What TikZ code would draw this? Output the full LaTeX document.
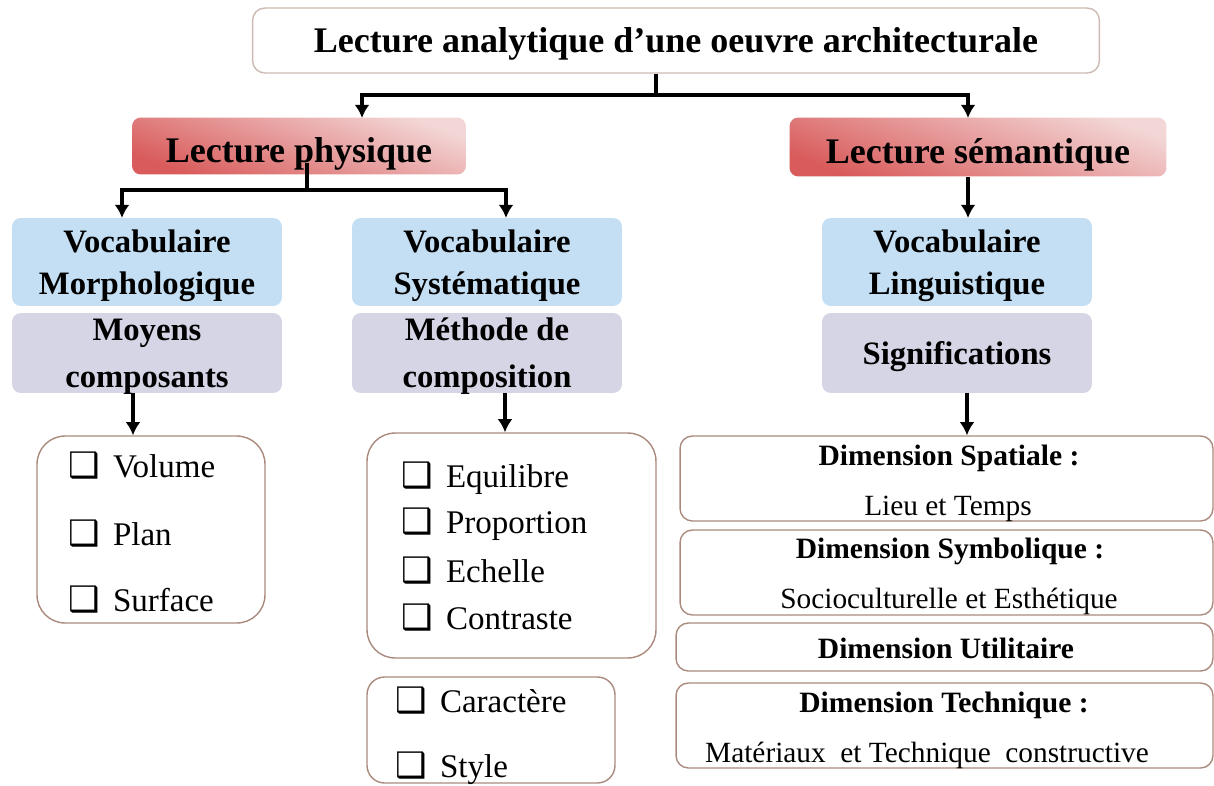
\documentclass[tikz,border=0pt]{standalone}
\usepackage{fontspec}
\setmainfont{Liberation Serif}
\newfontfamily\boxfont{DejaVu Sans}
\usetikzlibrary{positioning,arrows.meta}
\definecolor{headred}{HTML}{D95B5B}
\definecolor{headpink}{HTML}{F3D6D6}
\definecolor{vocblue}{HTML}{C4DFF3}
\definecolor{meanlav}{HTML}{D6D5E6}
\definecolor{edgebrown}{HTML}{A98A7C}
\definecolor{edgelight}{HTML}{CDBAB2}
\newcommand{\chk}[1]{{\boxfont\fontsize{20}{20}\selectfont ❑}\hspace{7.5pt}#1}

\begin{document}
\begin{tikzpicture}[x=0.02cm, y=-0.02cm,
  titlebox/.style={draw=edgelight, line width=0.8pt, fill=white, rounded corners=7pt, minimum width=16.94cm, minimum height=1.3cm, text height=14.2pt, text depth=0pt, font=\fontsize{20.5}{24}\selectfont\bfseries},
  head/.style={rounded corners=5pt, top color=headpink, bottom color=headred, shading angle=-20, text height=19pt, text depth=0pt, font=\fontsize{20.5}{24}\selectfont\bfseries, inner sep=0pt},
  vocab/.style={rounded corners=5pt, fill=vocblue, minimum width=5.4cm, minimum height=1.76cm, align=center, inner sep=0pt, text depth=0pt, font=\fontsize{18.6}{24}\selectfont\bfseries},
  means/.style={vocab, fill=meanlav, minimum height=1.6cm, font=\fontsize{18.6}{26.6}\selectfont\bfseries},
  listbox/.style={draw=edgebrown, line width=0.8pt, rounded corners=16pt},
  dimbox/.style={draw=edgebrown, line width=0.8pt, rounded corners=7pt, inner sep=0pt},
  dimhead/.style={anchor=base, inner sep=0pt, font=\fontsize{16.8}{20}\selectfont\bfseries},
  dimtext/.style={anchor=base, inner sep=0pt, font=\fontsize{16.7}{20}\selectfont},
  item/.style={anchor=base west, inner sep=0pt, font=\fontsize{18.8}{20}\selectfont},
  link/.style={line width=2.3pt},
  arrow/.style={link, -{Latex[length=7.5pt,width=8.5pt]}}
]
\useasboundingbox (0,0) rectangle (1214,785);

% titre et deux lectures
\node[titlebox] (title) at (676,40.5) {Lecture analytique d’une oeuvre architecturale};
\node[head, minimum width=6.68cm, minimum height=1.14cm] (phys) at (299,146) {Lecture physique};
\node[head, minimum width=7.54cm, minimum height=1.18cm] (sem) at (978,147) {Lecture sémantique};

% vocabulaires
\node[vocab] (morph) at (147,262) {Vocabulaire\\Morphologique};
\node[vocab] (syst) at (487,262) {Vocabulaire\\Systématique};
\node[vocab] (ling) at (957,262) {Vocabulaire\\Linguistique};
\node[means] (moyens) at (147,353) {Moyens\\composants};
\node[means] (methode) at (487,353) {Méthode de\\composition};
\node[means] (signif) at (957,353) {Significations};

% listes
\node[listbox, minimum width=4.56cm, minimum height=3.74cm] (elem) at (151,529.5) {};
\node[listbox, minimum width=5.78cm, minimum height=4.5cm] (compo) at (511.5,545.5) {};
\node[listbox, rounded corners=10pt, minimum width=4.96cm, minimum height=2.12cm] (expr) at (491,730) {};

\node[item] (volume) at (68,477) {\chk{Volume}};
\node[item] (plan) at (68,545) {\chk{Plan}};
\node[item] (surface) at (68,611) {\chk{Surface}};
\node[item] (equil) at (401,487) {\chk{Equilibre}};
\node[item] (propor) at (401,533) {\chk{Proportion}};
\node[item] (echelle) at (401,582) {\chk{Echelle}};
\node[item] (contr) at (401,629) {\chk{Contraste}};
\node[item] (caract) at (395,712) {\chk{Caractère}};
\node[item] (style) at (395,777) {\chk{Style}};

% dimensions
\node[dimbox, minimum width=10.66cm, minimum height=1.7cm] (spat) at (946.5,478.5) {};
\node[dimbox, minimum width=10.66cm, minimum height=1.7cm] (symb) at (946.5,572.5) {};
\node[dimbox, minimum width=10.74cm, minimum height=0.96cm] (util) at (944.5,647) {};
\node[dimbox, minimum width=10.74cm, minimum height=1.7cm] (tech) at (944.5,725.5) {};

\node[dimhead] (spath) at (949,465) {Dimension Spatiale :};
\node[dimtext] (spatt) at (948,515) {Lieu et Temps};
\node[dimhead] (symbh) at (950,558) {Dimension Symbolique :};
\node[dimtext] (symbt) at (949,608) {Socioculturelle et Esthétique};
\node[dimhead] (utilh) at (946,658) {Dimension Utilitaire};
\node[dimhead] (techh) at (944,712) {Dimension Technique :};
\node[dimtext] (techt) at (927,762) {Matériaux\ \ et Technique\ \ constructive};

% liaisons
\coordinate (tsplit) at (656,95);
\coordinate (psplit) at (307,190);
\coordinate (physin) at (362,118);
\coordinate (semin) at (968,118);
\coordinate (morphin) at (122,218);
\coordinate (systin) at (506,218);
\coordinate (lingin) at (968,218);
\coordinate (mx) at (133,400);
\coordinate (cx) at (505,400);
\coordinate (sx) at (967,400);

\draw[arrow] (tsplit |- title.south) -- (tsplit) -| (physin);
\draw[arrow] (tsplit) -| (semin);
\draw[arrow] ([yshift=6.8pt]psplit |- phys.south) -- (psplit) -| (morphin);
\draw[arrow] (psplit) -| (systin);
\draw[arrow] (lingin |- sem.south) -- (lingin);
\draw[arrow] (mx |- moyens.south) -- (mx |- elem.north);
\draw[arrow] (cx |- methode.south) -- (cx |- compo.north);
\draw[arrow] (sx |- signif.south) -- (sx |- spat.north);
\end{tikzpicture}
\end{document}
